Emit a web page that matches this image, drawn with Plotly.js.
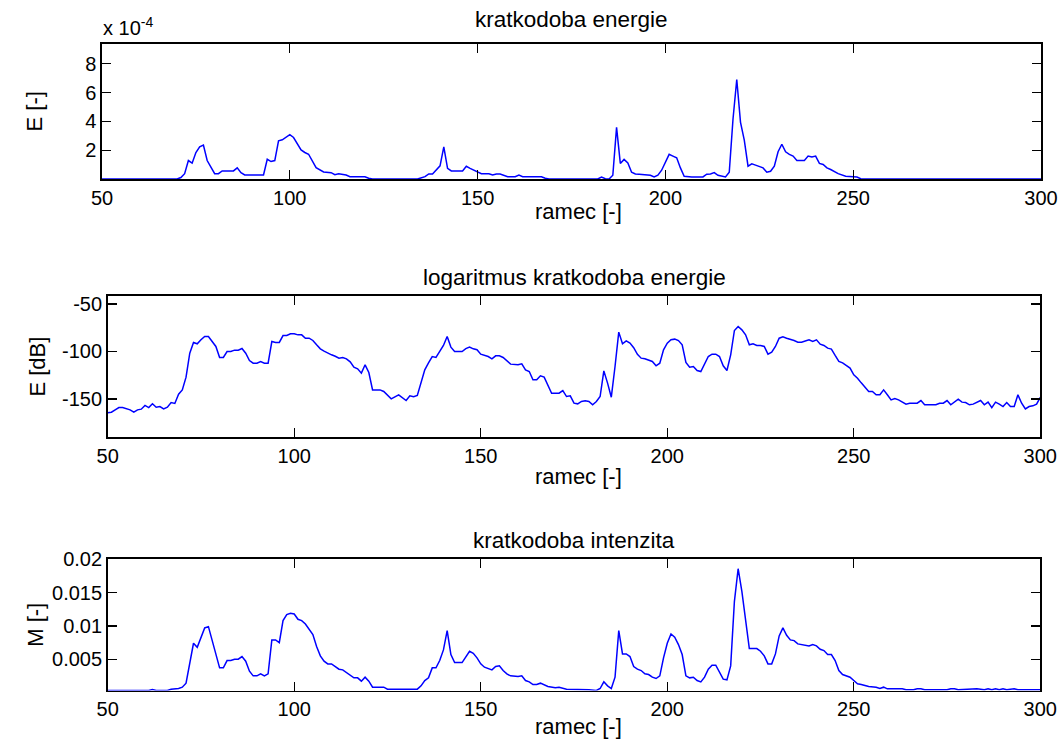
<!DOCTYPE html>
<html>
<head>
<meta charset="utf-8">
<script src="https://cdn.plot.ly/plotly-3.0.1.min.js"></script>
<style>
html,body{margin:0;padding:0;background:#fff;}
#chart{width:1061px;height:740px;}
</style>
</head>
<body>
<div id="chart"></div>
<script>
// ---- data ----
// subplot 1: short-time energy, values in units of 1e-4
const energyFrames = [50,70,71,72,73,74,75,76,77,78,80,81,82,85,86,87,88,93,94,95,96,97,98,99,100,101,103,104,105,107,109,111,112,113,115,116,120,121,122,134,136,137,138,140,141,142,143,146,147,148,149,150,151,153,154,155,156,158,160,161,162,167,168,169,182,183,184,185,186,187,188,189,190,191,192,193,195,196,197,198,199,200,201,202,203,204,205,207,210,211,212,213,214,216,217,218,219,220,221,222,223,224,225,226,227,228,229,230,231,232,233,234,235,237,238,239,240,241,242,243,244,246,248,251,252,253,300];
const energyE4 = [0,0,0.1,0.37,1.28,1.1,1.84,2.23,2.35,1.28,0.37,0.37,0.56,0.56,0.77,0.44,0.28,0.28,1.37,1.21,1.28,2.65,2.72,2.88,3.07,2.88,2.02,1.84,1.72,0.79,0.49,0.44,0.3,0.37,0.28,0.16,0.16,0.05,0,0,0.16,0.35,0.35,0.91,2.23,0.74,0.56,0.56,0.88,0.74,0.6,0.49,0.37,0.37,0.28,0.35,0.35,0.16,0.16,0.28,0.16,0.16,0.05,0,0,0.14,0.02,0,0.26,3.58,1.08,1.36,1.12,0.47,0.35,0.33,0.26,0.26,0.14,0.26,0.61,1.12,1.71,1.59,1.47,0.77,0.19,0.14,0.14,0.33,0.35,0.44,0.26,0.14,0.47,4.16,6.9,3.93,2.69,0.89,1.05,0.96,0.87,0.77,0.47,0.54,0.89,1.89,2.41,1.89,1.71,1.59,1.29,1.29,1.59,1.52,1.59,1.08,1.01,0.77,0.66,0.37,0.19,0.14,0.02,0,0];

// subplot 2: log short-time energy [dB]
const logFrames = [50,51,52,53,54,56,57,58,59,60,61,62,63,64,65,66,67,68,69,70,71,72,73,74,75,76,77,78,79,80,81,82,83,84,85,86,87,88,89,90,91,92,93,94,95,96,97,98,99,100,101,102,103,104,105,106,107,108,109,110,111,112,113,114,115,116,117,118,119,120,121,123,124,125,126,128,130,131,132,133,134,135,136,137,138,139,140,141,142,143,145,146,147,148,149,150,151,152,153,154,155,156,158,160,161,162,163,164,165,166,167,169,170,171,172,173,174,175,176,177,178,179,180,181,182,183,184,185,186,187,188,189,190,191,192,193,194,195,196,197,198,199,200,201,202,203,204,205,206,207,208,209,210,211,212,213,214,215,216,217,218,219,220,221,222,223,224,225,226,227,228,229,230,231,232,233,234,235,236,237,238,239,240,241,242,243,244,245,246,247,248,249,250,251,252,253,254,255,256,257,258,259,260,261,262,264,265,267,268,269,272,273,274,275,276,278,279,280,281,282,284,285,286,287,288,289,290,291,292,293,294,295,296,297,298,299,300];
const logEnergyDb = [-164.5,-163.9,-161.4,-159,-159,-161.4,-163.9,-161.4,-160.7,-156.8,-159,-155,-158.6,-157.9,-160.4,-158.6,-153.7,-154.7,-145,-140.4,-127,-101.8,-90.5,-91.9,-87.7,-84.2,-84.2,-90,-94.7,-106.3,-106.3,-100,-100,-98.6,-98.6,-96.8,-101.8,-109.5,-112.3,-112.3,-110.5,-112.3,-112.3,-89.5,-90.5,-90.5,-83.2,-83.2,-81.4,-81.4,-82.5,-82.5,-86,-86,-88.4,-93,-97.2,-99.6,-101.8,-103.5,-105,-107,-106.3,-107.7,-110.9,-116.5,-118.2,-122.8,-114,-122.1,-140.4,-140.4,-142.1,-145.6,-149.8,-145.6,-151.6,-146.7,-147.7,-146.3,-133.3,-119.3,-112,-105.3,-106.3,-99.6,-93.7,-84.2,-95.4,-100,-100,-97,-95.4,-97.2,-98.2,-102.8,-104,-105.3,-107.7,-104.6,-104.6,-106.3,-113.3,-114,-113,-119.3,-121.1,-129.8,-129.8,-125.6,-127,-143.9,-143.9,-143.9,-141.1,-147.4,-146.7,-154.4,-155.1,-152.6,-151.9,-152.6,-156.1,-152.6,-147.4,-120.4,-133.3,-148.1,-115.8,-79.6,-91.9,-88.8,-91.2,-96,-103,-107,-107.7,-109,-110.5,-115.1,-112.3,-98.2,-91.2,-87.7,-87,-88.5,-93,-111.6,-116.5,-115.8,-120,-121.1,-113,-105.3,-102.8,-102.8,-105.3,-115.1,-120,-103.5,-77.9,-73.7,-77.2,-82.5,-93,-91.9,-93.7,-93.7,-94.7,-102.8,-100.7,-94.7,-86,-84.6,-86,-87,-88.5,-90.2,-90.2,-89,-87.7,-89.5,-87.7,-92.3,-93.7,-96.5,-97.5,-104.2,-110.5,-112,-114.7,-117.5,-124.6,-128.1,-133,-137.9,-142.1,-142.1,-145.6,-145.6,-140.4,-145.6,-150.9,-149.5,-150.9,-155.4,-154.4,-154.4,-151.6,-156.1,-156.1,-154.4,-154.4,-151.6,-156.1,-150.2,-153.3,-153.7,-156.1,-155.4,-151.6,-156.1,-153.3,-159,-153.3,-155.4,-157.9,-153.7,-157.9,-157.9,-145.6,-154.4,-160.4,-157.9,-157.2,-155.4,-148.4];

// subplot 3: short-time intensity (magnitude)
const magFrames = [50,61,62,63,66,67,69,70,71,72,73,74,75,76,77,78,79,80,81,82,83,84,85,86,87,88,89,90,91,92,93,94,95,96,97,98,99,100,101,102,103,104,105,106,107,108,109,110,111,112,113,114,115,116,117,118,119,120,121,124,125,133,134,135,136,137,138,139,140,141,142,143,145,146,147,148,149,150,151,153,154,155,156,157,158,160,161,162,163,164,165,166,168,170,171,173,177,179,181,182,183,184,185,186,187,188,189,190,191,192,193,194,195,196,197,198,199,200,201,202,203,204,205,206,207,208,209,210,211,212,213,214,215,216,217,218,219,220,221,222,223,224,225,226,227,228,229,230,231,232,233,234,235,236,237,238,239,240,241,242,243,244,245,246,247,248,249,250,251,252,254,256,257,258,259,263,264,266,267,268,269,275,276,277,278,283,285,286,287,288,289,290,291,293,294,300];
const magnitude = [0.0003,0.0003,0.00045,0.0003,0.0003,0.0005,0.0006,0.0008,0.0014,0.0044,0.0074,0.0068,0.0082,0.0097,0.0099,0.0077,0.0059,0.0037,0.0037,0.0048,0.0048,0.005,0.005,0.0054,0.0047,0.0032,0.0025,0.0025,0.0028,0.0025,0.0028,0.0079,0.0079,0.0075,0.0108,0.0117,0.0119,0.0118,0.011,0.0108,0.0103,0.0095,0.0087,0.0069,0.0055,0.0047,0.0043,0.0043,0.0039,0.0035,0.0034,0.003,0.0025,0.0022,0.0022,0.0017,0.0023,0.0017,0.0008,0.0008,0.0005,0.0005,0.001,0.0018,0.0022,0.0037,0.0037,0.0048,0.0064,0.0093,0.0057,0.0045,0.0045,0.0054,0.0062,0.0059,0.0052,0.0043,0.0038,0.0034,0.0039,0.004,0.0033,0.0028,0.0025,0.0024,0.0025,0.0018,0.0016,0.0012,0.0012,0.0014,0.0009,0.0007,0.0008,0.0005,0.0005,0.0004,0.0003,0.0006,0.0016,0.001,0.0006,0.0023,0.0093,0.0058,0.0058,0.0054,0.0039,0.0035,0.0033,0.0028,0.0027,0.0023,0.0021,0.0025,0.0052,0.0074,0.0088,0.0083,0.0072,0.0057,0.0025,0.0022,0.0023,0.0018,0.0016,0.0023,0.0035,0.0041,0.0041,0.003,0.002,0.0019,0.004,0.0137,0.0186,0.0152,0.0112,0.0066,0.0066,0.0066,0.0062,0.0055,0.0043,0.0043,0.0058,0.0085,0.0097,0.0086,0.0079,0.0078,0.0073,0.0072,0.007,0.007,0.0072,0.007,0.0065,0.0063,0.0057,0.0057,0.0048,0.0033,0.0027,0.0025,0.0023,0.0018,0.0013,0.0012,0.0009,0.0008,0.0006,0.0008,0.00055,0.00055,0.0004,0.0004,0.00055,0.00055,0.0004,0.0004,0.00055,0.00055,0.0004,0.00055,0.0004,0.00055,0.0004,0.00055,0.0004,0.00055,0.0004,0.00055,0.0004,0.0004];

// titles and labels
const subplotTitles = ["kratkodoba energie", "logaritmus kratkodoba energie", "kratkodoba intenzita"];
const xLabel = "ramec [-]";
const yLabels = ["E [-]", "E [dB]", "M [-]"];
const xTicks = [50, 100, 150, 200, 250, 300];
const yTicks1 = [2, 4, 6, 8];
const yTicks2 = [-150, -100, -50];
const yTickText2 = ["-150", "-100", "-50"];
const yTicks3 = [0.005, 0.01, 0.015, 0.02];
const yTickText3 = ["0.005", "0.01", "0.015", "0.02"];
const exponentLabel = "x 10<sup>-4</sup>";

// ---- layout ----
const W = 1061, H = 740;
const FONT = "Liberation Sans, Arial, Helvetica, sans-serif";
const lineStyle = {color: "#0000ff", width: 1.5};

const traces = [
  {x: energyFrames, y: energyE4, type: "scatter", mode: "lines", line: lineStyle, xaxis: "x", yaxis: "y"},
  {x: logFrames, y: logEnergyDb, type: "scatter", mode: "lines", line: lineStyle, xaxis: "x2", yaxis: "y2"},
  {x: magFrames, y: magnitude, type: "scatter", mode: "lines", line: lineStyle, xaxis: "x3", yaxis: "y3"}
];

function px2x(p){ return p / W; }
function px2y(p){ return 1 - p / H; }

const tickFont = {family: FONT, size: 20, color: "#000"};
const labelFont = {family: FONT, size: 22, color: "#000"};
const titleFont = {family: FONT, size: 22.5, color: "#000"};

function xAxis(domain, anchor){
  return {
    domain: domain, anchor: anchor, range: [50, 300],
    tickvals: xTicks, ticks: "inside", ticklen: 9, tickwidth: 1.3, tickcolor: "#000",
    showline: true, linecolor: "#000", linewidth: 1.6, mirror: "ticks",
    showgrid: false, zeroline: false, tickfont: tickFont
  };
}
function yAxis(domain, anchor, range, tickvals, ticktext, label, standoff){
  const a = {
    domain: domain, anchor: anchor, range: range,
    tickvals: tickvals, ticks: "inside", ticklen: 9, tickwidth: 1.3, tickcolor: "#000",
    showline: true, linecolor: "#000", linewidth: 1.6, mirror: "ticks",
    showgrid: false, zeroline: false, tickfont: tickFont,
    title: {text: label, font: labelFont, standoff: standoff}
  };
  if (ticktext) a.ticktext = ticktext;
  return a;
}

function paperText(text, xpx, ypx, font, extra){
  return Object.assign({text: text, xref: "paper", yref: "paper", x: px2x(xpx), y: px2y(ypx),
    xanchor: "center", yanchor: "middle", showarrow: false, font: font}, extra || {});
}

const layout = {
  width: W, height: H,
  margin: {l: 0, r: 0, t: 0, b: 0, autoexpand: false},
  paper_bgcolor: "#fff", plot_bgcolor: "#fff",
  showlegend: false,
  font: {family: FONT, color: "#000"},
  xaxis:  xAxis([px2x(102), px2x(1041)], "y"),
  yaxis:  yAxis([px2y(179), px2y(43.5)], "x", [0, 9.4], yTicks1, null, yLabels[0], 36),
  xaxis2: xAxis([px2x(107.7), px2x(1040.3)], "y2"),
  yaxis2: yAxis([px2y(437.3), px2y(296)], "x2", [-190.3, -41.6], yTicks2, yTickText2, yLabels[1], 10),
  xaxis3: xAxis([px2x(107.7), px2x(1040.3)], "y3"),
  yaxis3: yAxis([px2y(690.5), px2y(559)], "x3", [0.0003, 0.02006], yTicks3, yTickText3, yLabels[2], 2),
  annotations: [
    paperText(subplotTitles[0], 571.5, 20, titleFont),
    paperText(subplotTitles[1], 574, 277, titleFont),
    paperText(subplotTitles[2], 574, 540, titleFont),
    paperText(xLabel, 578, 212, labelFont),
    paperText(xLabel, 578, 476, labelFont),
    paperText(xLabel, 578, 726, labelFont),
    paperText(exponentLabel, 101, 27, {family: FONT, size: 20, color: "#000"}, {xanchor: "left"})
  ]
};

Plotly.newPlot("chart", traces, layout, {staticPlot: true, displayModeBar: false});
</script>
</body>
</html>
